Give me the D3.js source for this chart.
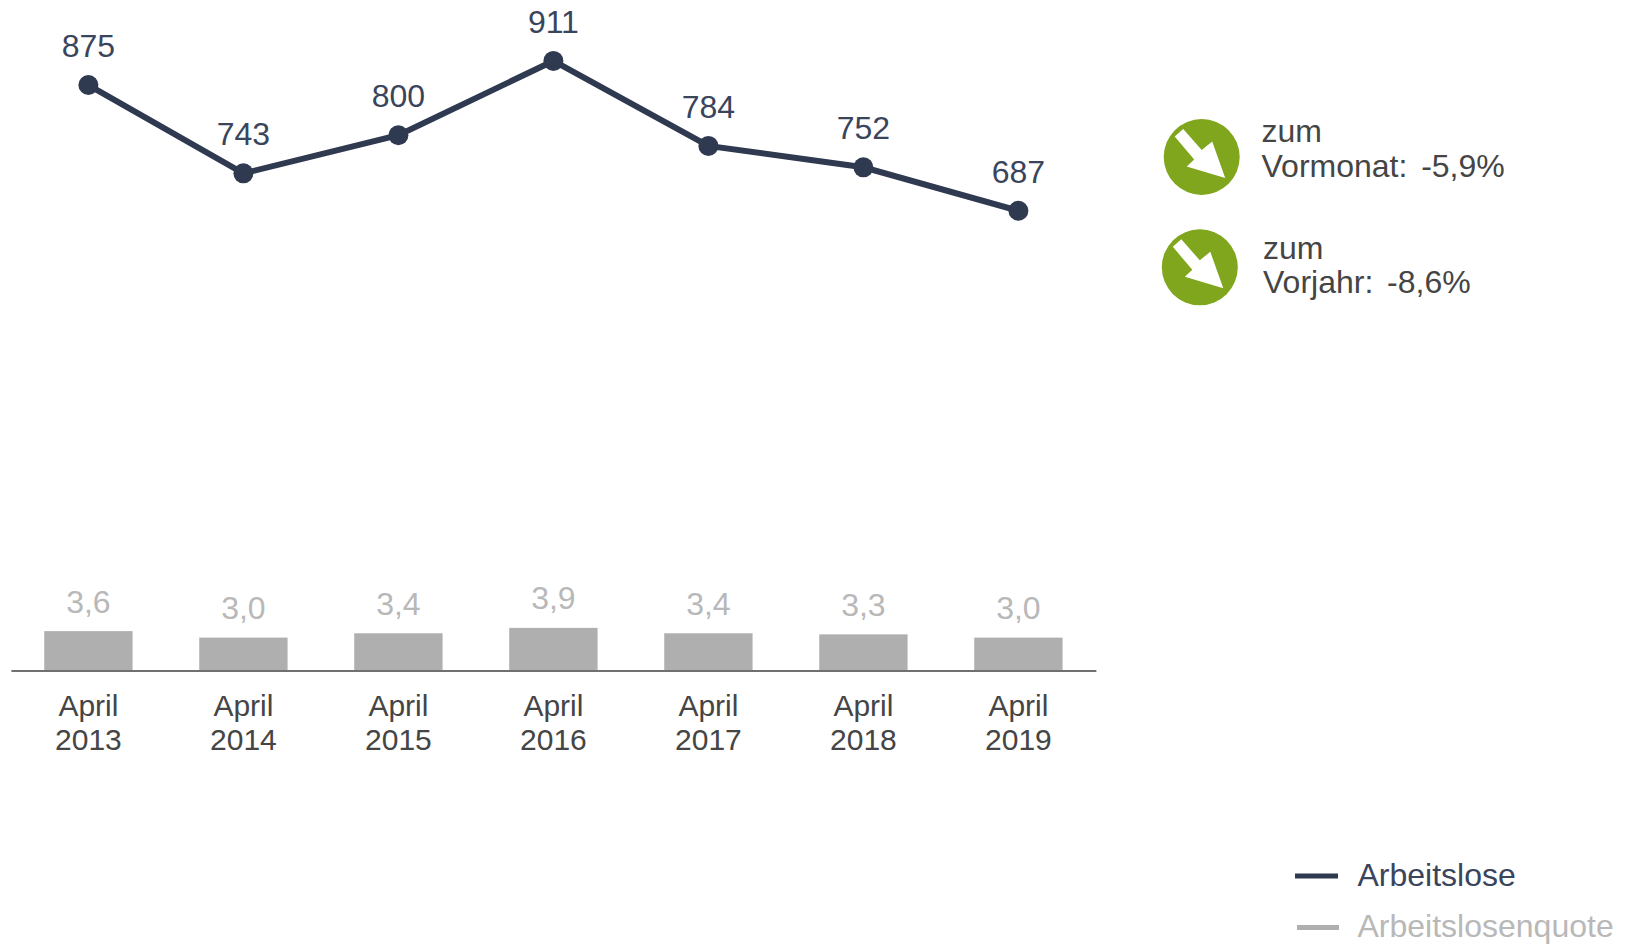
<!DOCTYPE html>
<html>
<head>
<meta charset="utf-8">
<script src="https://cdnjs.cloudflare.com/ajax/libs/d3/7.8.5/d3.min.js"></script>
<style>
  html, body {margin:0; padding:0; background:#fff;}
  svg {display:block;}
  text {font-family:"Liberation Sans", Arial, sans-serif;}
</style>
</head>
<body>
<div class="chart"></div>
<script>
/*values*/
var years=["2013","2014","2015","2016","2017","2018","2019"];
var arbeitslose=[875,743,800,911,784,752,687];
var quote=[3.6,3.0,3.4,3.9,3.4,3.3,3.0];
var quoteLabels=["3,6","3,0","3,4","3,9","3,4","3,3","3,0"];
var changes=[["zum","Vormonat:  -5,9%"],["zum","Vorjahr:  -8,6%"]];
var legendNames=["Arbeitslose","Arbeitslosenquote"];

var width=1630, height=944;
var dark="#2f3a50", darkText="#3a455c", grey="#afafaf", greyText="#b8b8b8", axisText="#454545", green="#7fa61d";

var canvas=d3.select(".chart").append("svg")
  .attr("width", width)
  .attr("height", height);

/*Scales, line and bars share the same baseline*/
var xScale=d3.scaleBand()
  .domain(years)
  .range([10.9, 1095.9])
  .paddingInner(0.43)
  .paddingOuter(0.215);
var yLine=d3.scaleLinear().domain([0,1000]).range([670.4,1.4]);
var yBar=d3.scaleLinear().domain([0,10]).range([670,562]);

function xMid(year){return xScale(year)+xScale.bandwidth()/2;}

//bars
canvas.append("g").selectAll("rect")
  .data(years)
  .enter().append("rect")
  .attr("x", function(d){return xScale(d);})
  .attr("y", function(d,i){return yBar(quote[i]);})
  .attr("width", xScale.bandwidth())
  .attr("height", function(d,i){return yBar(0)-yBar(quote[i]);})
  .attr("fill", grey);

canvas.append("g").selectAll("text")
  .data(years)
  .enter().append("text")
  .attr("x", xMid)
  .attr("y", function(d,i){return yBar(quote[i])-18.5;})
  .attr("text-anchor", "middle")
  .style("font-size", "32px")
  .style("fill", greyText)
  .text(function(d,i){return quoteLabels[i];});

// x axis
var xAxis=d3.axisBottom(xScale).tickSize(0).tickSizeOuter(0);
var gx=canvas.append("g")
  .attr("class", "x-axis")
  .attr("transform", "translate(0,670.5)")
  .call(xAxis);
gx.select(".domain").attr("stroke", "#404040").attr("stroke-width", 1.4);
gx.selectAll(".tick text").each(function(d){
  var t=d3.select(this).text(null)
    .attr("y", null).attr("dy", null)
    .style("font-size", "30px")
    .style("font-family", '"Liberation Sans", Arial, sans-serif')
    .attr("fill", axisText);
  t.append("tspan").attr("x", 0).attr("y", 45).text("April");
  t.append("tspan").attr("x", 0).attr("y", 79).text(d);
});

//line
var line=d3.line()
  .x(function(d){return xMid(d);})
  .y(function(d,i){return yLine(arbeitslose[i]);});

canvas.append("path")
  .attr("d", line(years))
  .attr("fill", "none")
  .attr("stroke", dark)
  .attr("stroke-width", 6);

canvas.append("g").selectAll("circle")
  .data(years)
  .enter().append("circle")
  .attr("cx", xMid)
  .attr("cy", function(d,i){return yLine(arbeitslose[i]);})
  .attr("r", 10)
  .attr("fill", dark);

canvas.append("g").selectAll("text")
  .data(years)
  .enter().append("text")
  .attr("x", xMid)
  .attr("y", function(d,i){return yLine(arbeitslose[i])-28;})
  .attr("text-anchor", "middle")
  .style("font-size", "32px")
  .style("fill", darkText)
  .text(function(d,i){return arbeitslose[i];});

// change badges
var badges=[{cx:1201.7, cy:157, tx:1261.5, y1:141.7, y2:177},
            {cx:1199.8, cy:267.3, tx:1263, y1:259, y2:293}];
var arrow="M-27,-20.5 L-18.5,-28 L0,-7 L10.5,-15.5 L23.5,21 L-15,9.5 L-7.5,2.5 Z";

badges.forEach(function(b,i){
  var g=canvas.append("g");
  g.append("circle").attr("cx", b.cx).attr("cy", b.cy).attr("r", 38).attr("fill", green);
  g.append("path")
    .attr("d", arrow)
    .attr("transform", "translate("+b.cx+","+b.cy+")")
    .attr("fill", "#fff");
  [b.y1, b.y2].forEach(function(y,k){
    g.append("text")
      .attr("x", b.tx)
      .attr("y", y)
      .style("font-size", "32px")
      .style("white-space", "pre")
      .style("word-spacing", "-2px")
      .style("fill", axisText)
      .text(changes[i][k]);
  });
});

// legend
var legend=[{y:876, x1:1295, x2:1338, ty:886, c:dark},
            {y:927.5, x1:1297, x2:1339, ty:937, c:grey}];
legend.forEach(function(l,i){
  canvas.append("line")
    .attr("x1", l.x1).attr("x2", l.x2)
    .attr("y1", l.y).attr("y2", l.y)
    .attr("stroke", l.c)
    .attr("stroke-width", 5);
  canvas.append("text")
    .attr("x", 1357.5)
    .attr("y", l.ty)
    .style("font-size", "32px")
    .style("fill", i==0 ? darkText : greyText)
    .text(legendNames[i]);
});
</script>
</body>
</html>
